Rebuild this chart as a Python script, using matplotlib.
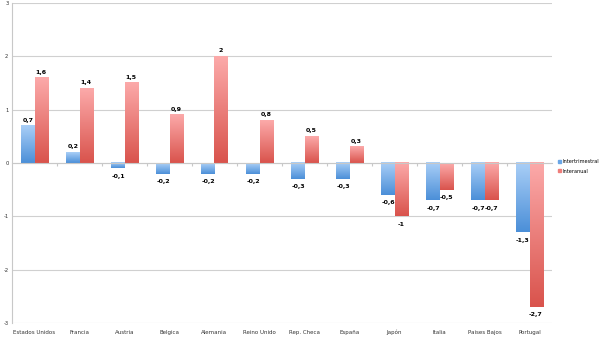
import numpy as np
import matplotlib.pyplot as plt
from matplotlib.colors import LinearSegmentedColormap

paises = ['Estados Unidos', 'Francia', 'Austria', 'Belgica', 'Alemania', 'Reino Unido',
          'Rep. Checa', 'España', 'Japón', 'Italia', 'Paises Bajos', 'Portugal']
intertrimestral = [0.7, 0.2, -0.1, -0.2, -0.2, -0.2, -0.3, -0.3, -0.6, -0.7, -0.7, -1.3]
interanual = [1.6, 1.4, 1.5, 0.9, 2, 0.8, 0.5, 0.3, -1, -0.5, -0.7, -2.7]
yticks = [-3, -2, -1, 0, 1, 2, 3]

blue_cm = LinearSegmentedColormap.from_list('b', ['#4b8fd8', '#aacff7'])
red_cm = LinearSegmentedColormap.from_list('r', ['#d9534c', '#fcaaaa'])


def fmt(v):
    s = ('%.1f' % v).rstrip('0').rstrip('.')
    return s.replace('.', ',')


fig = plt.figure(figsize=(6, 3.38), dpi=100)
ax = fig.add_axes([0.02, 0.044, 0.90, 0.947])

x = np.arange(len(paises))
w = 0.29
bars1 = ax.bar(x - w / 2, intertrimestral, w, color='none', label='Intertrimestral')
bars2 = ax.bar(x + w / 2, interanual, w, color='none', label='Interanual')

grad = np.linspace(0, 1, 256).reshape(-1, 1)
for bars, cm in ((bars1, blue_cm), (bars2, red_cm)):
    for b in bars:
        x0, y0 = b.get_x(), b.get_y()
        h = b.get_height()
        ymin, ymax = min(y0, y0 + h), max(y0, y0 + h)
        ax.imshow(grad, cmap=cm, origin='lower', aspect='auto', zorder=2,
                  extent=(x0, x0 + b.get_width(), ymin, ymax))

for bars, vals in ((bars1, intertrimestral), (bars2, interanual)):
    for b, v in zip(bars, vals):
        cx = b.get_x() + b.get_width() / 2
        if v >= 0:
            ax.text(cx, v + 0.06, fmt(v), ha='center', va='bottom', fontsize=4.5,
                    fontweight='bold')
        else:
            ax.text(cx, v - 0.1, fmt(v), ha='center', va='top', fontsize=4.5,
                    fontweight='bold')

ax.set_xlim(-0.5, len(paises) - 0.5)
ax.set_ylim(-3, 3)
ax.set_yticks(yticks)
ax.set_yticklabels([str(t) for t in yticks], fontsize=3.8, color='#333333')
ax.tick_params(axis='y', length=0, pad=2.5)
ax.grid(axis='y', color='#d0d0d0', lw=0.8, zorder=0)
ax.set_axisbelow(True)

ax.spines['top'].set_visible(False)
ax.spines['right'].set_visible(False)
ax.spines['left'].set_color('#c8c8c8')
ax.spines['bottom'].set_position(('data', 0))
ax.spines['bottom'].set_color('#c8c8c8')
ax.set_xticks(x[:-1] + 0.5)
ax.set_xticklabels([])
ax.tick_params(axis='x', length=2.5, color='#c8c8c8', direction='out')

for i, p in enumerate(paises):
    ax.text(i, -3.2, p, ha='center', va='baseline', fontsize=4, color='#333333')

leg = ax.legend(handles=[plt.Rectangle((0, 0), 1, 1, color='#6aa6e6'),
                         plt.Rectangle((0, 0), 1, 1, color='#ef7d7a')],
                labels=['Intertrimestral', 'Interanual'],
                loc='center left', bbox_to_anchor=(1.005, 0.49), frameon=False,
                fontsize=3.6, handlelength=0.6, handleheight=0.6, handletextpad=0.3,
                labelspacing=0.9, borderpad=0.2)

plt.savefig('out.png', dpi=100)
